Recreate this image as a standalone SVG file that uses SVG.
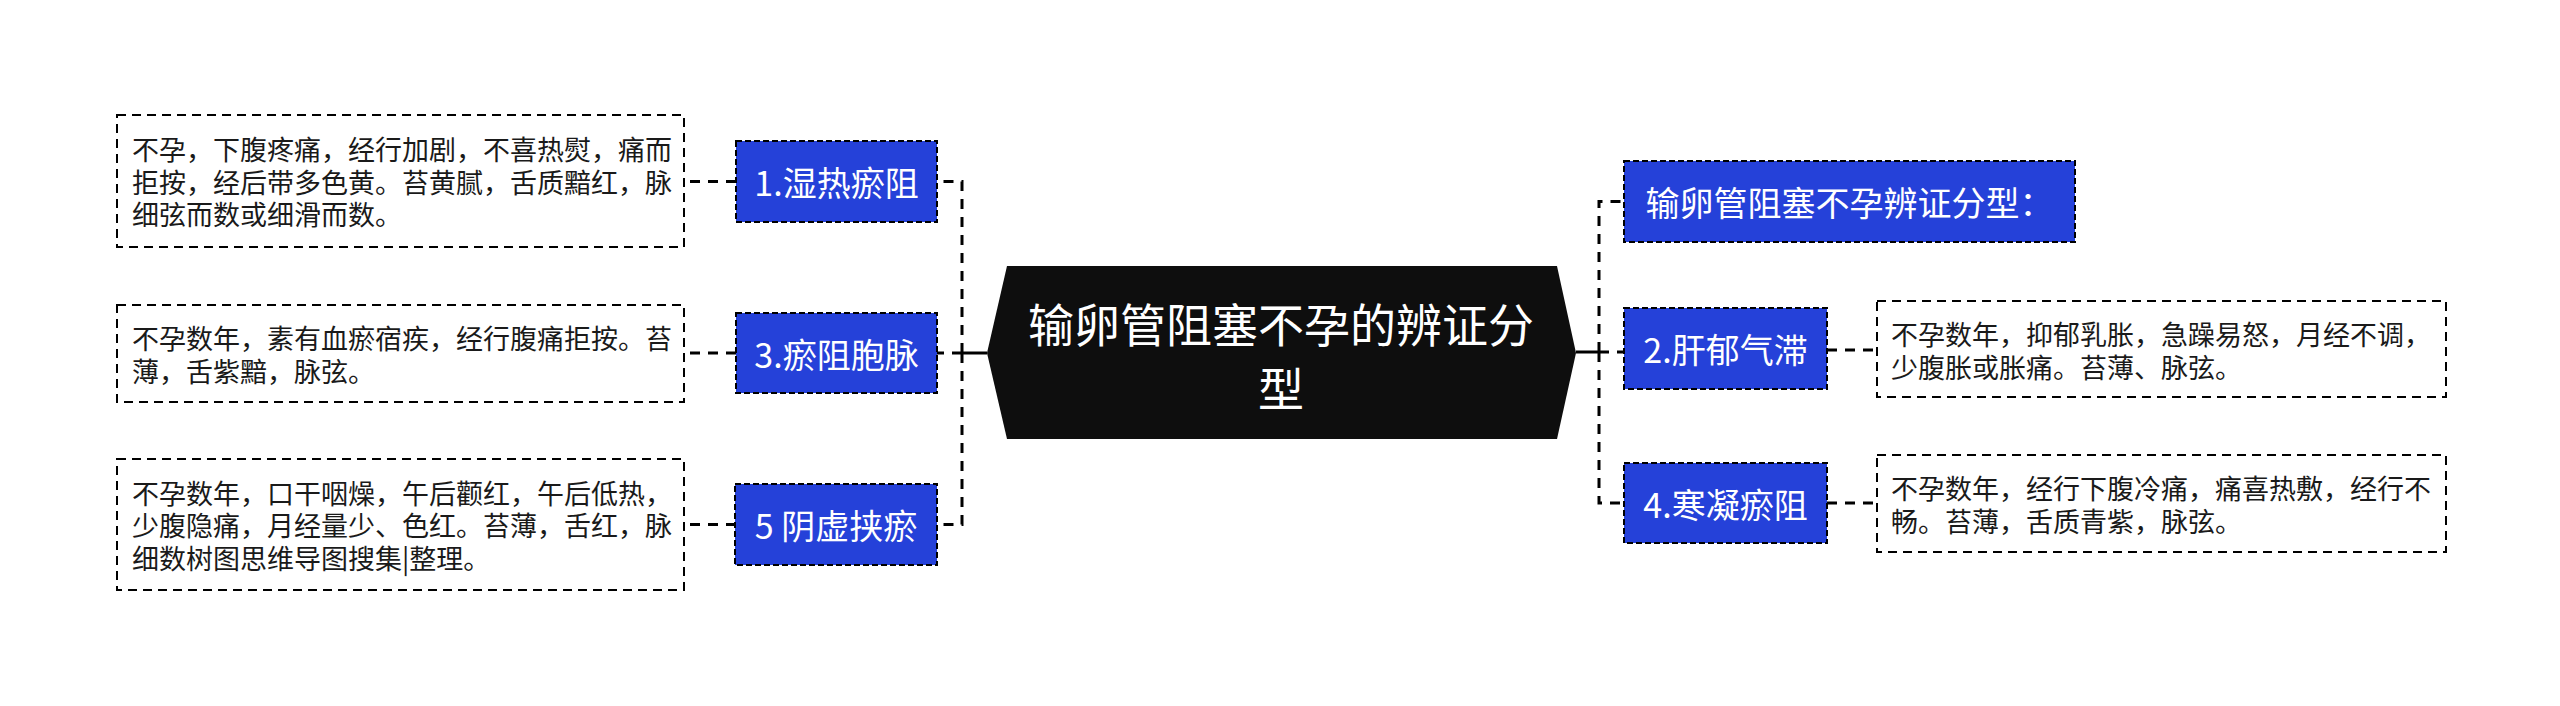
<svg xmlns="http://www.w3.org/2000/svg" width="2560" height="706" viewBox="0 0 2560 706">
<style>
.bg{fill:#ffffff}
.conn{fill:none;stroke:#000;stroke-width:3;stroke-dasharray:10 8}
.solid{fill:none;stroke:#000;stroke-width:3}
.blue{fill:#2541d9;stroke:#000;stroke-width:2;stroke-dasharray:6 3}
.desc{fill:#fff;stroke:#000;stroke-width:2;stroke-dasharray:9 6}
.center{fill:#0e0e0e}
.t{font-family:"Noto Sans CJK SC","Microsoft YaHei",sans-serif;dominant-baseline:central}
.tc{font-size:46px;fill:#fff;text-anchor:middle}
.tb{font-size:34px;fill:#fff;text-anchor:middle}
.td{font-size:27px;fill:#1a1a1a}
</style>
<rect class="bg" x="0" y="0" width="2560" height="706"/>
<g id="connectors">
<path class="solid" d="M987 353 H962"/>
<path class="conn" d="M962 353 V181.5 H937"/>
<path class="conn" d="M962 353 H937"/>
<path class="conn" d="M962 353 V524.5 H937"/>
<path class="solid" d="M1576 352 H1599"/>
<path class="conn" d="M1599 352 V201.5 H1624"/>
<path class="conn" d="M1599 352 H1624"/>
<path class="conn" d="M1599 352 V503 H1624"/>
<path class="conn" d="M736 181.5 H684"/>
<path class="conn" d="M736 353 H684"/>
<path class="conn" d="M736 524.5 H684"/>
<path class="conn" d="M1827 350 H1877"/>
<path class="conn" d="M1827 503 H1877"/>
</g>
<g id="center">
<polygon class="center" points="987,353 1007,266 1557,266 1576,353 1557,439 1007,439"/>
<text class="t tc" x="1281" y="322">输卵管阻塞不孕的辨证分</text>
<text class="t tc" x="1281" y="386">型</text>
</g>
<g id="n1">
<rect class="blue" x="736" y="141" width="201" height="81"/>
<text class="t tb" x="836.5" y="181.5">1.湿热瘀阻</text>
</g>
<g id="d1">
<rect class="desc" x="117" y="115" width="567" height="132"/>
<text class="t td" x="132" y="148.5">不孕，下腹疼痛，经行加剧，不喜热熨，痛而</text>
<text class="t td" x="132" y="181">拒按，经后带多色黄。苔黄腻，舌质黯红，脉</text>
<text class="t td" x="132" y="213.5">细弦而数或细滑而数。</text>
</g>
<g id="n3">
<rect class="blue" x="736" y="313" width="201" height="80"/>
<text class="t tb" x="836.5" y="353">3.瘀阻胞脉</text>
</g>
<g id="d3">
<rect class="desc" x="117" y="305" width="567" height="97"/>
<text class="t td" x="132" y="337">不孕数年，素有血瘀宿疾，经行腹痛拒按。苔</text>
<text class="t td" x="132" y="370">薄，舌紫黯，脉弦。</text>
</g>
<g id="n5">
<rect class="blue" x="735" y="484" width="202" height="81"/>
<text class="t tb" x="836" y="524.5">5 阴虚挟瘀</text>
</g>
<g id="d5">
<rect class="desc" x="117" y="459" width="567" height="131"/>
<text class="t td" x="132" y="492">不孕数年，口干咽燥，午后颧红，午后低热，</text>
<text class="t td" x="132" y="524.5">少腹隐痛，月经量少、色红。苔薄，舌红，脉</text>
<text class="t td" x="132" y="557">细数树图思维导图搜集|整理。</text>
</g>
<g id="n0">
<rect class="blue" x="1624" y="161" width="451" height="81"/>
<text class="t tb" x="1849.5" y="201.5">输卵管阻塞不孕辨证分型：</text>
</g>
<g id="n2">
<rect class="blue" x="1624" y="308" width="203" height="81"/>
<text class="t tb" x="1725.5" y="348.5">2.肝郁气滞</text>
</g>
<g id="d2">
<rect class="desc" x="1877" y="301" width="569" height="96"/>
<text class="t td" x="1891" y="333">不孕数年，抑郁乳胀，急躁易怒，月经不调，</text>
<text class="t td" x="1891" y="366">少腹胀或胀痛。苔薄、脉弦。</text>
</g>
<g id="n4">
<rect class="blue" x="1624" y="463" width="203" height="80"/>
<text class="t tb" x="1725.5" y="503">4.寒凝瘀阻</text>
</g>
<g id="d4">
<rect class="desc" x="1877" y="455" width="569" height="97"/>
<text class="t td" x="1891" y="487">不孕数年，经行下腹冷痛，痛喜热敷，经行不</text>
<text class="t td" x="1891" y="520">畅。苔薄，舌质青紫，脉弦。</text>
</g>
</svg>
